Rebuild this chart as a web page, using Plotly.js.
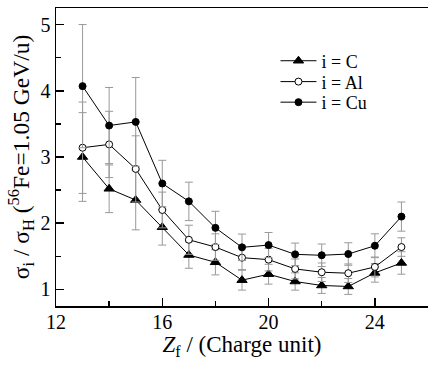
<!DOCTYPE html>
<html>
<head>
<meta charset="utf-8">
<script src="https://cdn.plot.ly/plotly-3.0.1.min.js"></script>
<style>html,body{margin:0;padding:0;background:#fff;}#chart{width:428px;height:366px;}</style>
</head>
<body>
<div id="chart"></div>
<script>
const zf = [13, 14, 15, 16, 17, 18, 19, 20, 21, 22, 23, 24, 25];
const ratioC  = [3.00, 2.52, 2.35, 1.94, 1.52, 1.41, 1.14, 1.23, 1.12, 1.06, 1.045, 1.25, 1.40];
const errC    = [0.67, 0.36, 0.45, 0.27, 0.20, 0.19, 0.15, 0.15, 0.13, 0.12, 0.12, 0.14, 0.17];
const ratioAl = [3.14, 3.19, 2.82, 2.20, 1.75, 1.64, 1.48, 1.45, 1.31, 1.26, 1.245, 1.34, 1.64];
const errAl   = [0.69, 0.50, 0.50, 0.27, 0.22, 0.20, 0.18, 0.17, 0.15, 0.14, 0.14, 0.15, 0.14];
const ratioCu = [4.07, 3.475, 3.53, 2.60, 2.33, 1.93, 1.636, 1.67, 1.53, 1.516, 1.535, 1.66, 2.10];
const errCu   = [0.93, 0.575, 0.67, 0.35, 0.29, 0.25, 0.20, 0.19, 0.17, 0.17, 0.17, 0.18, 0.22];
const names = ['i = C', 'i = Al', 'i = Cu'];

function series(y, e, name, symbol, size, fill, leg) {
  return {
    x: zf, y: y, name: name, type: 'scatter', mode: 'lines+markers', legend: leg,
    line: {color: '#000', width: 1},
    marker: {symbol: symbol, size: size, color: fill, line: {color: '#000', width: 1}},
    error_y: {type: 'data', array: e, visible: true, color: '#999', thickness: 1, width: 4}
  };
}
const data = [
  series(ratioC, errC, names[0], 'triangle-up', 9, '#000', 'legend'),
  series(ratioAl, errAl, names[1], 'circle', 7, '#fff', 'legend2'),
  series(ratioCu, errCu, names[2], 'circle', 7, '#000', 'legend3')
];

const FAM = 'Liberation Serif';
function leg(y) {
  return {x: 0.59, y: y, xanchor: 'left', yanchor: 'middle', bgcolor: 'rgba(0,0,0,0)',
          font: {family: FAM, size: 18, color: '#000'}, itemwidth: 36};
}
const layout = {
  width: 428, height: 366,
  margin: {l: 56, r: 0, t: 8, b: 60},
  paper_bgcolor: '#fff', plot_bgcolor: '#fff',
  showlegend: true,
  font: {family: FAM, color: '#000'},
  legend: leg(0.822), legend2: leg(0.752), legend3: leg(0.683),
  xaxis: {
    range: [12, 26], showgrid: false, zeroline: false,
    showline: true, linecolor: '#000', linewidth: 1.5, mirror: true,
    tickmode: 'array', tickvals: [12, 16, 20, 24], ticktext: ['12', '16', '20', '24'],
    ticks: 'inside', ticklen: 8, tickwidth: 1.5, tickcolor: '#000',
    minor: {tickvals: [14, 18, 22], ticks: 'inside', ticklen: 5, tickwidth: 1.5, tickcolor: '#000'},
    tickfont: {family: FAM, size: 20, color: '#000'}, ticklabelstandoff: -3,
    title: {text: '<i>Z</i><sub>f</sub> / (Charge unit)', font: {family: FAM, size: 23, color: '#000'}, standoff: 0}
  },
  yaxis: {
    range: [0.75, 5.25], showgrid: false, zeroline: false,
    showline: true, linecolor: '#000', linewidth: 1.5, mirror: true,
    tickmode: 'array', tickvals: [1, 2, 3, 4, 5], ticktext: ['1', '2', '3', '4', '5'],
    ticks: 'inside', ticklen: 8, tickwidth: 1.5, tickcolor: '#000',
    minor: {tickvals: [1.5, 2.5, 3.5, 4.5], ticks: 'inside', ticklen: 5, tickwidth: 1.5, tickcolor: '#000'},
    tickfont: {family: FAM, size: 20, color: '#000'},
    title: {text: 'σ<sub>i</sub> / σ<sub>H</sub> (<sup>56</sup>Fe=1.05 GeV/u)', font: {family: FAM, size: 23.5, color: '#000'}, standoff: 4}
  }
};
Plotly.newPlot('chart', data, layout, {staticPlot: true, displayModeBar: false});
</script>
</body>
</html>
